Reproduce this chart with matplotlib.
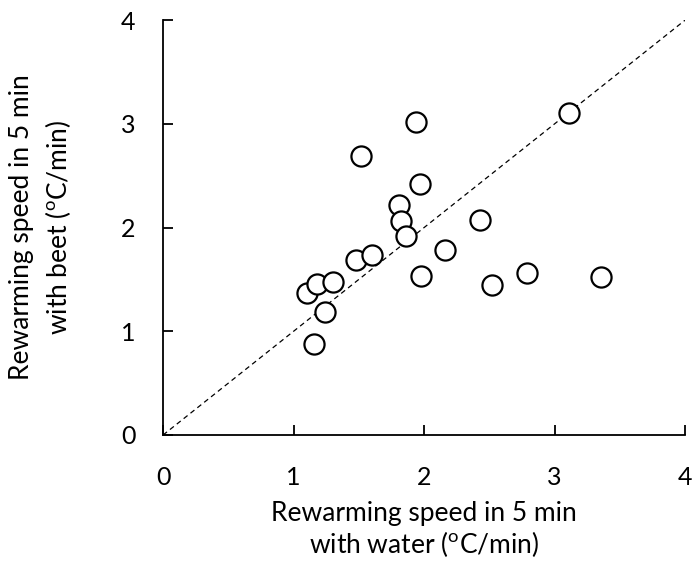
import matplotlib
matplotlib.use("Agg")
import matplotlib.pyplot as plt

plt.rcParams['font.family'] = ['Lato', 'DejaVu Sans']
plt.rcParams['mathtext.fontset'] = 'custom'
plt.rcParams['mathtext.rm'] = 'Lato'

# rewarming speed (oC/min) per subject
water_speed = [1.10, 1.18, 1.30, 1.24, 1.16, 1.48, 1.60, 1.52, 1.94, 1.97,
               1.81, 1.82, 1.86, 2.16, 1.98, 2.43, 2.52, 2.79, 3.36, 3.11]
beet_speed = [1.37, 1.46, 1.48, 1.19, 0.88, 1.69, 1.74, 2.69, 3.02, 2.42,
              2.22, 2.06, 1.92, 1.78, 1.53, 2.07, 1.45, 1.56, 1.52, 3.11]
identity = [0, 4]
ticks = [0, 1, 2, 3, 4]

fig = plt.figure(figsize=(6.94, 5.62), dpi=100)
ax = fig.add_axes([0.235, 0.226, 0.752, 0.738])

ax.plot(identity, identity, color="black", linestyle=(0, (4, 3)), linewidth=0.9)
ax.scatter(water_speed, beet_speed, s=210, facecolors="white",
           edgecolors="black", linewidths=1.6, zorder=3)

ax.set_xlim(0, 4)
ax.set_ylim(0, 4)
ax.set_xticks(ticks)
ax.set_yticks(ticks)
ax.spines["top"].set_visible(False)
ax.spines["right"].set_visible(False)
for s in ("left", "bottom"):
    ax.spines[s].set_linewidth(1.3)
ax.tick_params(direction="in", length=7, width=1.3, labelsize=18)
ax.tick_params(axis="x", pad=22)
ax.tick_params(axis="y", pad=20)

ax.set_xlabel("Rewarming speed in 5 min\nwith water ($^{\\mathrm{o}}$C/min)",
              fontsize=19, linespacing=1.1, va="top")
ax.xaxis.set_label_coords(0.5, -0.16)
ax.set_ylabel("Rewarming speed in 5 min\nwith beet ($^{\\mathrm{o}}$C/min)",
              fontsize=19, linespacing=1.4)
ax.yaxis.set_label_coords(-0.172, 0.5)

fig.savefig("out.png", dpi=100)
